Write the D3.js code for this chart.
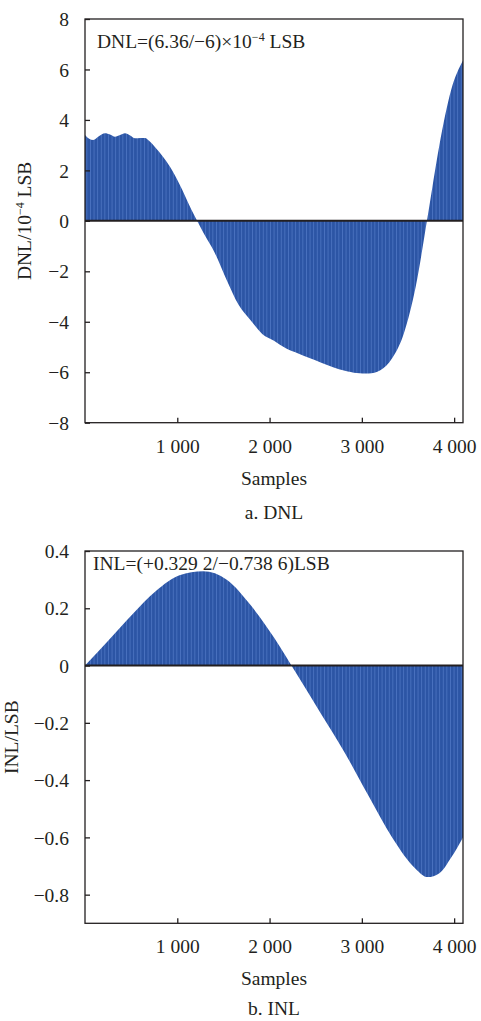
<!DOCTYPE html>
<html>
<head>
<meta charset="utf-8">
<script src="https://cdn.jsdelivr.net/npm/d3@7"></script>
<style>
  body { margin: 0; background: #fff; }
  svg { display: block; font-family: "Liberation Serif", "Times New Roman", serif; }
</style>
</head>
<body>
<svg id="chart" width="481" height="1021"></svg>
<script>
// DNL (x 1e-4 LSB)
const dnlSamples = [0, 45, 90, 150, 217, 270, 325, 380, 433, 490, 542, 600, 650, 700, 760, 845, 921,
  1024, 1152, 1280, 1408, 1536, 1664, 1792, 1920, 2048, 2176, 2304, 2432, 2560, 2688, 2816, 2944,
  3072, 3200, 3328, 3456, 3584, 3712, 3840, 3968, 4096];
const dnlValues = [3.40, 3.25, 3.20, 3.35, 3.47, 3.42, 3.33, 3.40, 3.47, 3.38, 3.27, 3.28, 3.28, 3.15, 2.92, 2.54, 2.14,
  1.45, 0.45, -0.45, -1.28, -2.35, -3.33, -3.93, -4.48, -4.75, -5.05, -5.25, -5.44, -5.62, -5.80, -5.94, -6.03,
  -6.05, -5.92, -5.45, -4.45, -2.60, 0.15, 3.00, 5.20, 6.36];

// INL (LSB)
const inlSamples = [0, 256, 512, 768, 1024, 1280, 1536, 1792, 2048, 2304, 2560, 2816, 3072, 3328, 3584, 3712, 3840, 3968, 4096];
const inlValues = [0, 0.088, 0.178, 0.26, 0.315, 0.329, 0.30, 0.212, 0.098, -0.035, -0.17, -0.305, -0.455, -0.60, -0.71, -0.7386, -0.725, -0.67, -0.60];

const xTicks = [1000, 2000, 3000, 4000];
const dnlTicks = [-8, -6, -4, -2, 0, 2, 4, 6, 8];
const inlTicks = [-0.8, -0.6, -0.4, -0.2, 0, 0.2, 0.4];

const svg = d3.select("#chart");
const left = 85, right = 463;
const fill = "#2c55a5", stripe = "#4a72bf", ink = "#231f20";
const fs = 19.5;

const loc = d3.formatLocale({decimal: ".", thousands: " ", grouping: [3], currency: ["", ""], minus: "\u2212"});
const fmtX = loc.format(",");

// stripe texture for the dense bars
const defs = svg.append("defs");
const pat = defs.append("pattern").attr("id", "bars")
  .attr("patternUnits", "userSpaceOnUse").attr("width", 3.6).attr("height", 10);
pat.append("rect").attr("width", 3.6).attr("height", 10).attr("fill", fill);
pat.append("rect").attr("x", 0).attr("width", 0.9).attr("height", 10).attr("fill", stripe);

function panel(o) {
  const x = d3.scaleLinear().domain([0, 4096]).range([left, right]);
  const y = d3.scaleLinear().domain(o.domain).range([o.bottom, o.top]);
  const g = svg.append("g");
  const id = "clip" + o.key;
  defs.append("clipPath").attr("id", id).append("rect")
    .attr("x", left).attr("y", o.top).attr("width", right - left).attr("height", o.bottom - o.top);

  const data = o.samples.map((s, i) => [s, o.values[i]]);
  const area = d3.area().x(d => x(d[0])).y0(y(0)).y1(d => y(d[1])).curve(d3.curveMonotoneX);
  g.append("path").datum(data).attr("d", area)
    .attr("fill", "url(#bars)").attr("clip-path", `url(#${id})`);

  // zero line
  g.append("line").attr("x1", left).attr("x2", right).attr("y1", y(0)).attr("y2", y(0))
    .attr("stroke", ink).attr("stroke-width", 2);

  // frame
  g.append("rect").attr("x", left).attr("y", o.top).attr("width", right - left).attr("height", o.bottom - o.top)
    .attr("fill", "none").attr("stroke", ink).attr("stroke-width", 1.3);

  const xa = g.append("g").attr("transform", `translate(0,${o.bottom})`)
    .call(d3.axisBottom(x).tickValues(xTicks).tickSize(-5).tickFormat(fmtX));
  const ya = g.append("g").attr("transform", `translate(${left},0)`)
    .call(d3.axisLeft(y).tickValues(o.ticks).tickSize(-5).tickFormat(o.fmt));
  [xa, ya].forEach(a => {
    a.select(".domain").remove();
    a.selectAll(".tick line").attr("stroke", ink).attr("stroke-width", 1.3);
    a.selectAll("text").attr("fill", ink).style("font-size", fs + "px").style("font-family", "Liberation Serif");
  });
  xa.selectAll("text").attr("y", 30).attr("dy", null);
  ya.selectAll("text").attr("x", -16).attr("dy", "0.34em");

  g.append("text").attr("x", (left + right) / 2).attr("y", o.bottom + 62)
    .attr("text-anchor", "middle").style("font-size", fs + "px").attr("fill", ink).text("Samples");
  g.append("text").attr("x", (left + right) / 2).attr("y", o.bottom + o.capDy)
    .attr("text-anchor", "middle").style("font-size", fs + "px").attr("fill", ink).text(o.caption);

  const yl = g.append("text")
    .attr("transform", `translate(${o.labelX},${(o.top + o.bottom) / 2}) rotate(-90)`)
    .attr("text-anchor", "middle").style("font-size", fs + "px").attr("fill", ink);
  o.label(yl);

  const note = g.append("text").attr("x", o.noteX).attr("y", o.noteY)
    .style("font-size", fs + "px").attr("fill", ink);
  o.note(note);
}

panel({
  key: "dnl", top: 19, bottom: 422.7, domain: [-8, 8], ticks: dnlTicks,
  samples: dnlSamples, values: dnlValues, caption: "a. DNL", capDy: 96,
  fmt: d3.format("d"), labelX: 31, noteX: 97, noteY: 48,
  label: t => {
    t.append("tspan").text("DNL/10");
    t.append("tspan").attr("dy", -7).style("font-size", "12px").text("\u22124");
    t.append("tspan").attr("dy", 7).text(" LSB");
  },
  note: t => {
    t.append("tspan").text("DNL=(6.36/\u22126)\u00d710");
    t.append("tspan").attr("dy", -7).style("font-size", "12px").text("\u22124");
    t.append("tspan").attr("dy", 7).text(" LSB");
  }
});

panel({
  key: "inl", top: 551, bottom: 923.3, domain: [-0.9, 0.4], ticks: inlTicks,
  samples: inlSamples, values: inlValues, caption: "b. INL", capDy: 92,
  fmt: d => d === 0 ? "0" : loc.format(".1f")(d), labelX: 18, noteX: 93, noteY: 570,
  label: t => t.text("INL/LSB"),
  note: t => t.text("INL=(+0.329 2/\u22120.738 6)LSB")
});
</script>
</body>
</html>
